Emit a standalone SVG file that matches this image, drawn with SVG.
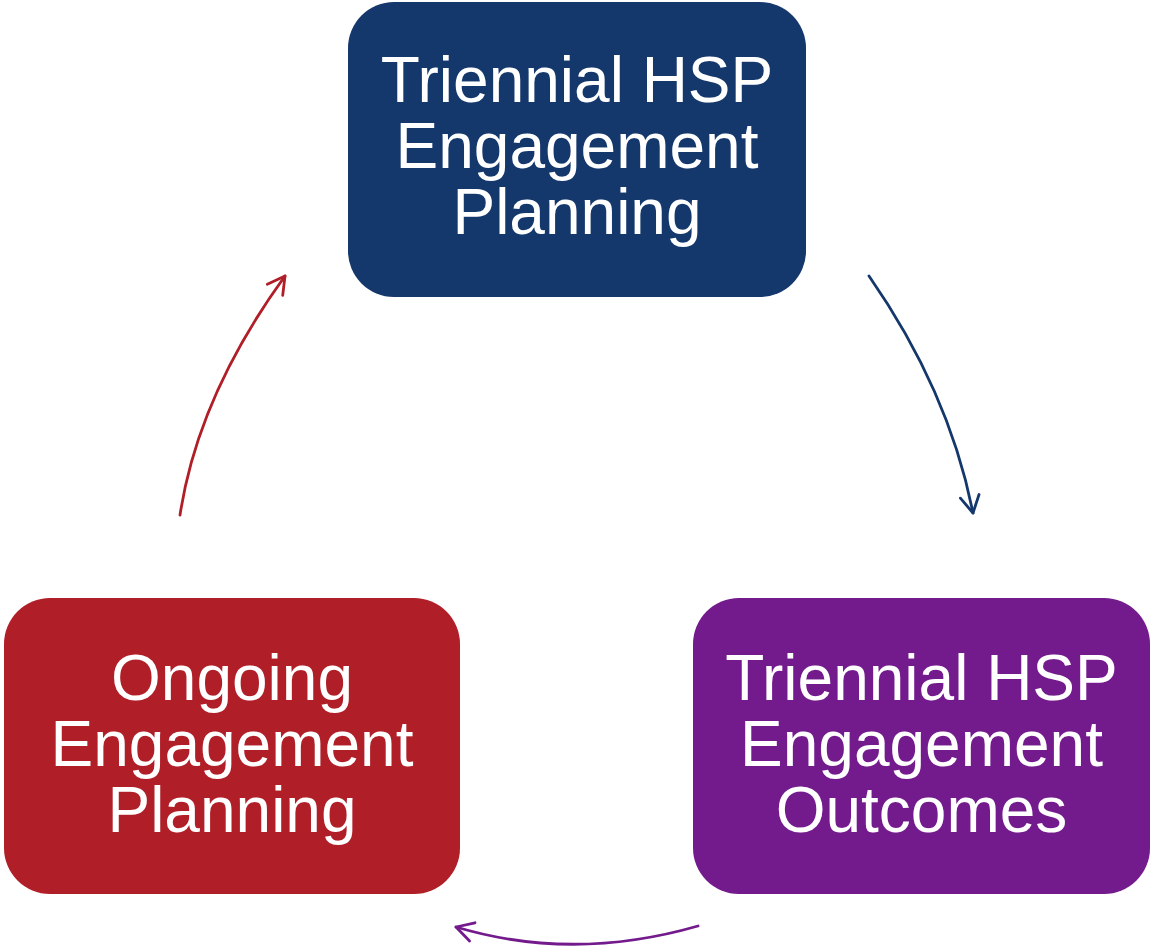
<svg xmlns="http://www.w3.org/2000/svg" width="1153" height="952" viewBox="0 0 1153 952">
  <style>
    .lbl { font-family: "Liberation Sans", Arial, sans-serif; font-size: 64px; fill: #ffffff; text-anchor: middle; }
    .conn { fill: none; stroke-width: 2.8; stroke-linecap: round; }
  </style>
  <defs>
    <marker id="ahBlue" markerUnits="userSpaceOnUse" markerWidth="40" markerHeight="40" refX="0" refY="0" viewBox="-20 -20 40 40" orient="auto">
      <path d="M -17 -9.5 L 0 0 L -17 9.5" fill="none" stroke="#14376c" stroke-width="2.8" stroke-linecap="round" stroke-linejoin="round"/>
    </marker>
    <marker id="ahRed" markerUnits="userSpaceOnUse" markerWidth="40" markerHeight="40" refX="0" refY="0" viewBox="-20 -20 40 40" orient="auto">
      <path d="M -17 -9.5 L 0 0 L -17 9.5" fill="none" stroke="#b01e28" stroke-width="2.8" stroke-linecap="round" stroke-linejoin="round"/>
    </marker>
    <marker id="ahPurple" markerUnits="userSpaceOnUse" markerWidth="40" markerHeight="40" refX="0" refY="0" viewBox="-20 -20 40 40" orient="auto">
      <path d="M -17 -9.5 L 0 0 L -17 9.5" fill="none" stroke="#731a8c" stroke-width="2.8" stroke-linecap="round" stroke-linejoin="round"/>
    </marker>
  </defs>
  <rect width="1153" height="952" fill="#ffffff"/>

  <g id="connectors">
    <path class="conn" d="M 869 276 Q 949 391 973 513" stroke="#14376c" marker-end="url(#ahBlue)"/>
    <path class="conn" d="M 698 926 Q 573 962 456 927" stroke="#731a8c" marker-end="url(#ahPurple)"/>
    <path class="conn" d="M 180 515 Q 198 396 285 276" stroke="#b01e28" marker-end="url(#ahRed)"/>
  </g>

  <g id="node-triennial-planning">
    <rect x="348" y="2" width="458" height="295" rx="46" ry="46" fill="#14376c"/>
    <text class="lbl" x="577" y="102">Triennial HSP</text>
    <text class="lbl" x="577" y="168">Engagement</text>
    <text class="lbl" x="577" y="234">Planning</text>
  </g>

  <g id="node-triennial-outcomes">
    <rect x="693" y="598" width="457" height="296" rx="46" ry="46" fill="#731a8c"/>
    <text class="lbl" x="921.5" y="700">Triennial HSP</text>
    <text class="lbl" x="921.5" y="766">Engagement</text>
    <text class="lbl" x="921.5" y="832">Outcomes</text>
  </g>

  <g id="node-ongoing-planning">
    <rect x="4" y="598" width="456" height="296" rx="46" ry="46" fill="#b01e28"/>
    <text class="lbl" x="232" y="700">Ongoing</text>
    <text class="lbl" x="232" y="766">Engagement</text>
    <text class="lbl" x="232" y="832">Planning</text>
  </g>
</svg>
